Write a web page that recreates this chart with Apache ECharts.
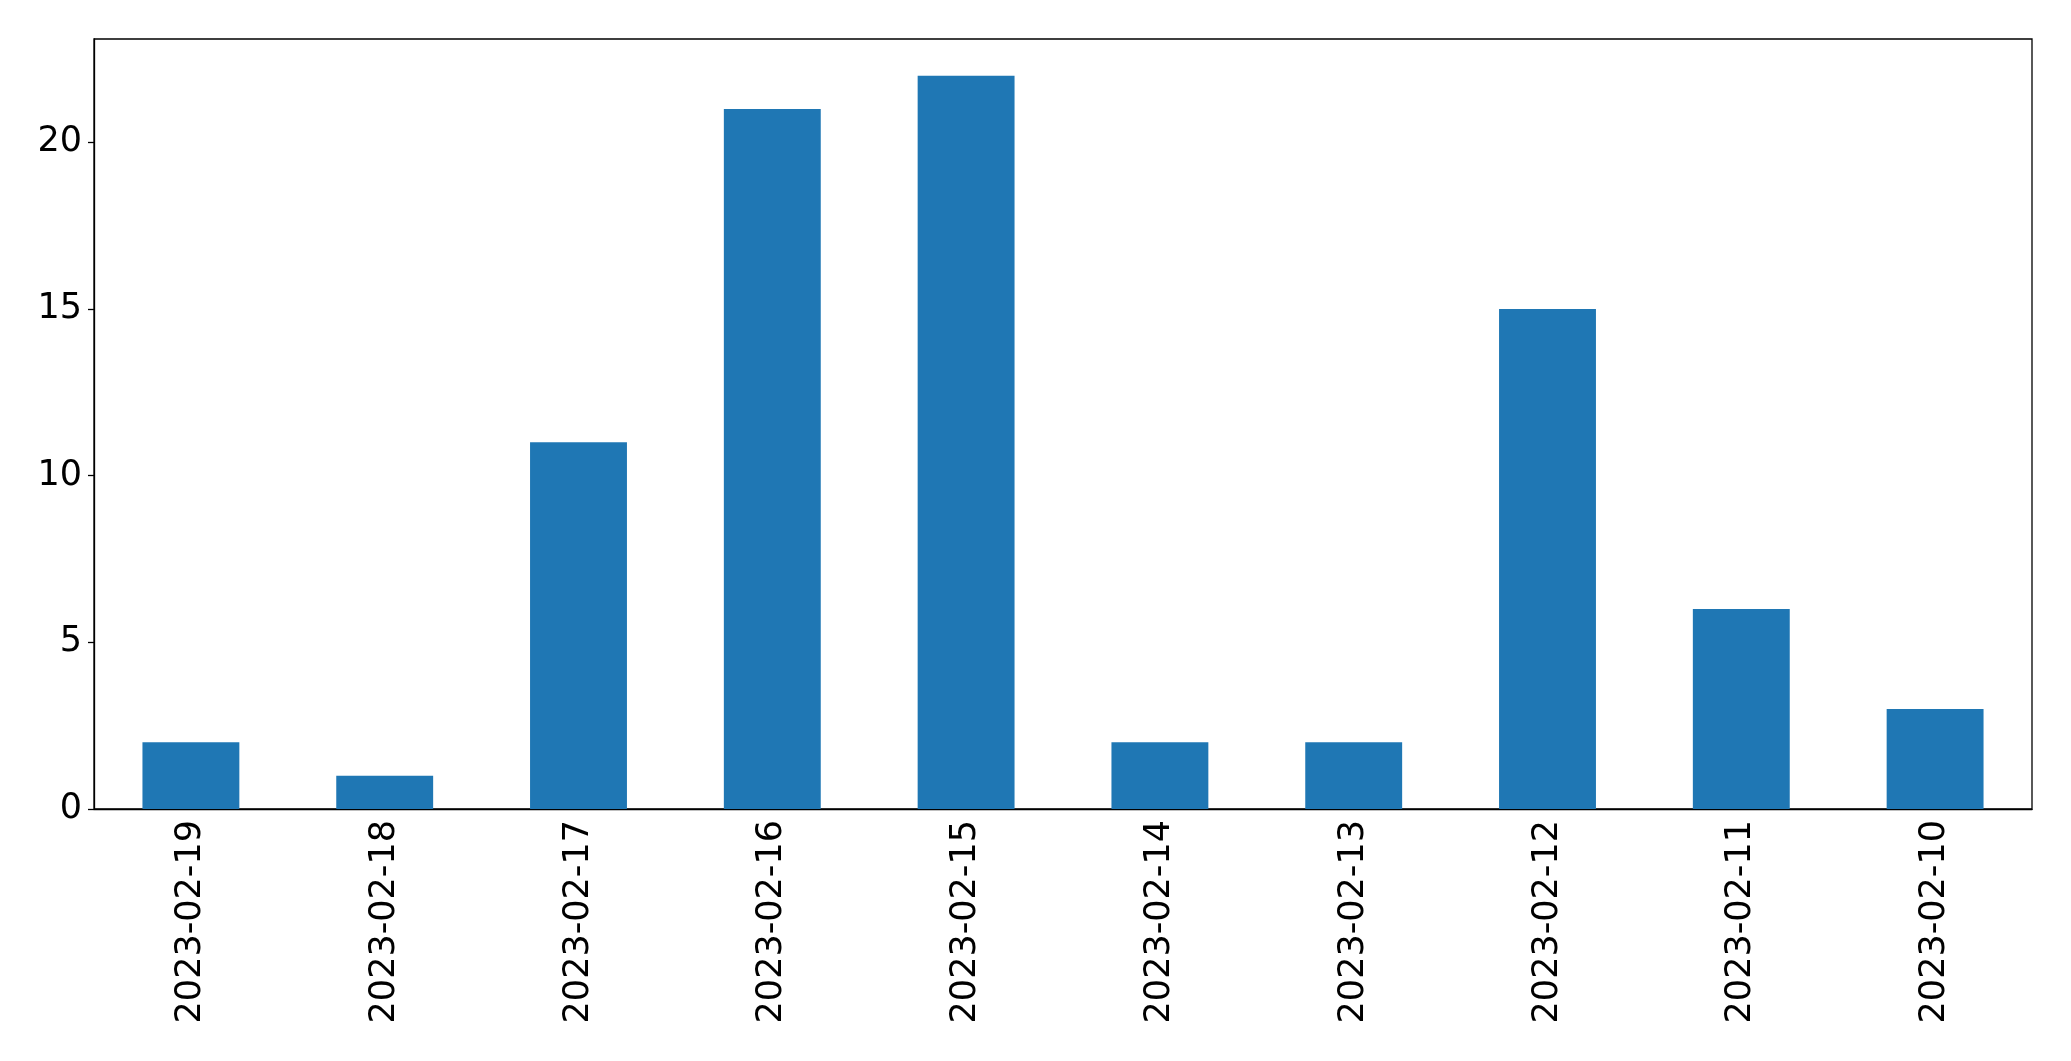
<!DOCTYPE html>
<html>
<head>
<meta charset="utf-8">
<script src="https://cdn.jsdelivr.net/npm/echarts@6/dist/echarts.min.js"></script>
<style>html,body{margin:0;padding:0;background:#fff}#c{width:2071px;height:1061px}</style>
</head>
<body>
<div id="c"></div>
<script>
const categories = ['2023-02-19','2023-02-18','2023-02-17','2023-02-16','2023-02-15','2023-02-14','2023-02-13','2023-02-12','2023-02-11','2023-02-10'];
const values = [2, 1, 11, 21, 22, 2, 2, 15, 6, 3];
const yTicks = [0, 5, 10, 15, 20];

const chart = echarts.init(document.getElementById('c'));
chart.setOption({
  animation: false,
  grid: {left: 94, right: 39, top: 39, bottom: 252, show: true, borderColor: '#000', borderWidth: 1.3, backgroundColor: 'transparent'},
  xAxis: {
    type: 'category', data: categories,
    axisLine: {lineStyle: {color: '#000', width: 1.3}},
    axisTick: {alignWithLabel: true, length: 6, lineStyle: {color: '#000', width: 1.3}},
    axisLabel: {rotate: 90, color: '#000', fontSize: 35, fontFamily: 'DejaVu Sans', margin: 11, interval: 0}
  },
  yAxis: {
    type: 'value', min: 0, max: 23.1,
    splitLine: {show: false},
    axisLine: {show: true, lineStyle: {color: '#000', width: 1.3}},
    axisTick: {show: true, length: 6, customValues: yTicks, lineStyle: {color: '#000', width: 1.3}},
    axisLabel: {color: '#000', fontSize: 35, fontFamily: 'DejaVu Sans', margin: 12, customValues: yTicks}
  },
  series: [{type: 'bar', data: values, barWidth: '50%', itemStyle: {color: '#1f77b4'}}]
});
</script>
</body>
</html>
